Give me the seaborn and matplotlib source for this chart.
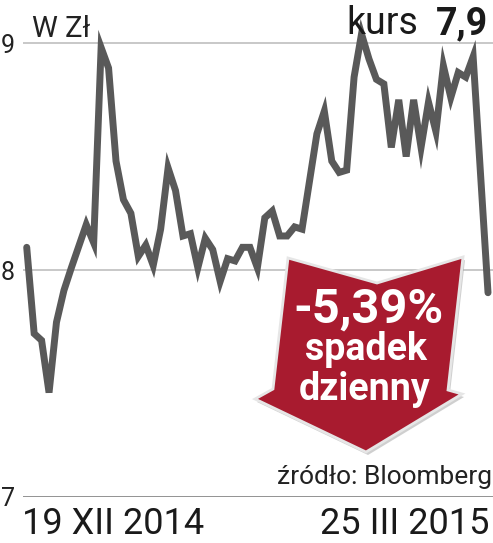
import matplotlib
matplotlib.use("Agg")
import matplotlib.pyplot as plt
import seaborn as sns
from matplotlib.patches import Polygon

# trading day index and closing price (zl)
days = [0, 1, 2, 3, 4, 5, 6, 8, 9, 10, 11, 12, 13, 14, 15, 16, 17, 18, 19, 20,
        21, 22, 23, 24, 25, 26, 27, 28, 29, 30, 31, 32, 33, 34, 35, 36, 37, 39,
        40, 41, 42, 43, 44, 45, 46, 47, 48, 49, 50, 51, 52, 53, 54, 55, 56, 57,
        58, 59, 60, 62]
price = [8.10, 7.72, 7.69, 7.46, 7.77, 7.91, 8.01, 8.20, 8.12, 8.98, 8.89, 8.48,
         8.31, 8.25, 8.06, 8.11, 8.02, 8.18, 8.45, 8.35, 8.15, 8.16, 8.01, 8.14,
         8.09, 7.95, 8.05, 8.04, 8.10, 8.10, 8.01, 8.23, 8.26, 8.15, 8.15, 8.19,
         8.18, 8.60, 8.70, 8.48, 8.43, 8.44, 8.85, 9.04, 8.93, 8.84, 8.82, 8.54,
         8.75, 8.50, 8.75, 8.54, 8.74, 8.61, 8.90, 8.76, 8.87, 8.85, 8.94, 7.90]
y_ticks = [7, 8, 9]
start_label = "19 XII 2014"
end_label = "25 III 2015"
last_price = "7,9"
change_label = "-5,39%"

W, H = 493, 543

sns.set_theme(style="white")
plt.rcParams["font.family"] = ["Roboto", "DejaVu Sans"]

fig = plt.figure(figsize=(W / 100, H / 100), dpi=100)
# axes spans y = 7 (497 px from top) up to 9.15 (9 px from top)
ax = fig.add_axes([23 / W, (H - 497) / H, 1 - 23 / W, 488 / H])

sns.lineplot(x=days, y=price, ax=ax, color="#595959", linewidth=5, zorder=3)
for ln in ax.lines:
    ln.set_clip_on(False)
    ln.set_solid_joinstyle("miter")

ax.set_xlim(-0.5, 62.67)
ax.set_ylim(7, 9.15)
ax.set_yticks(y_ticks)
ax.set_yticklabels([str(t) for t in y_ticks], fontsize=18, color="#222222")
ax.tick_params(axis="y", length=0, pad=6)
ax.set_xticks([])
ax.set_xlabel("")
ax.set_ylabel("")
for s in ax.spines.values():
    s.set_visible(False)
for t in y_ticks[1:]:
    ax.axhline(t, color="#c4c4c4", lw=1.3, zorder=1)
ax.axhline(y_ticks[0], color="#8a8a8a", lw=1.3, zorder=1)

# texts
def px(x, y):
    return x / W, 1 - y / H

fig.text(*px(32, 37), "W Zł", fontsize=21, color="#222222", va="baseline")
fig.text(*px(488, 34), last_price, fontsize=27, fontweight="bold", color="#1a1a1a",
         ha="right", va="baseline")
fig.text(*px(418, 34), "kurs", fontsize=27, color="#1a1a1a", ha="right", va="baseline")
fig.text(*px(492, 484), "źródło: Bloomberg", fontsize=19, color="#222222",
         ha="right", va="baseline")
fig.text(*px(22, 534), start_label, fontsize=26, color="#1a1a1a", va="baseline")
fig.text(*px(489, 534), end_label, fontsize=26, color="#1a1a1a", ha="right", va="baseline")

# red arrow badge
arrow = [(288, 258), (377, 283), (463, 257), (448, 390), (462, 394),
         (366, 452), (255, 399), (273, 389)]
shadow = Polygon([px(x + 2, y + 3) for x, y in arrow], closed=True,
                 transform=fig.transFigure, facecolor="#b0b0b0", edgecolor="none",
                 alpha=0.6, zorder=4)
badge = Polygon([px(x, y) for x, y in arrow], closed=True, transform=fig.transFigure,
                facecolor="#a81b2f", edgecolor="#e6e6e6", lw=2, zorder=5)
fig.add_artist(shadow)
fig.add_artist(badge)

fig.text(*px(369, 323), change_label, fontsize=35, fontweight="bold", color="white",
         ha="center", va="baseline", zorder=6)
fig.text(*px(366, 360), "spadek", fontsize=27, fontweight="bold", color="white",
         ha="center", va="baseline", zorder=6)
fig.text(*px(365, 400), "dzienny", fontsize=27, fontweight="bold", color="white",
         ha="center", va="baseline", zorder=6)

fig.savefig("out.png", dpi=100)
